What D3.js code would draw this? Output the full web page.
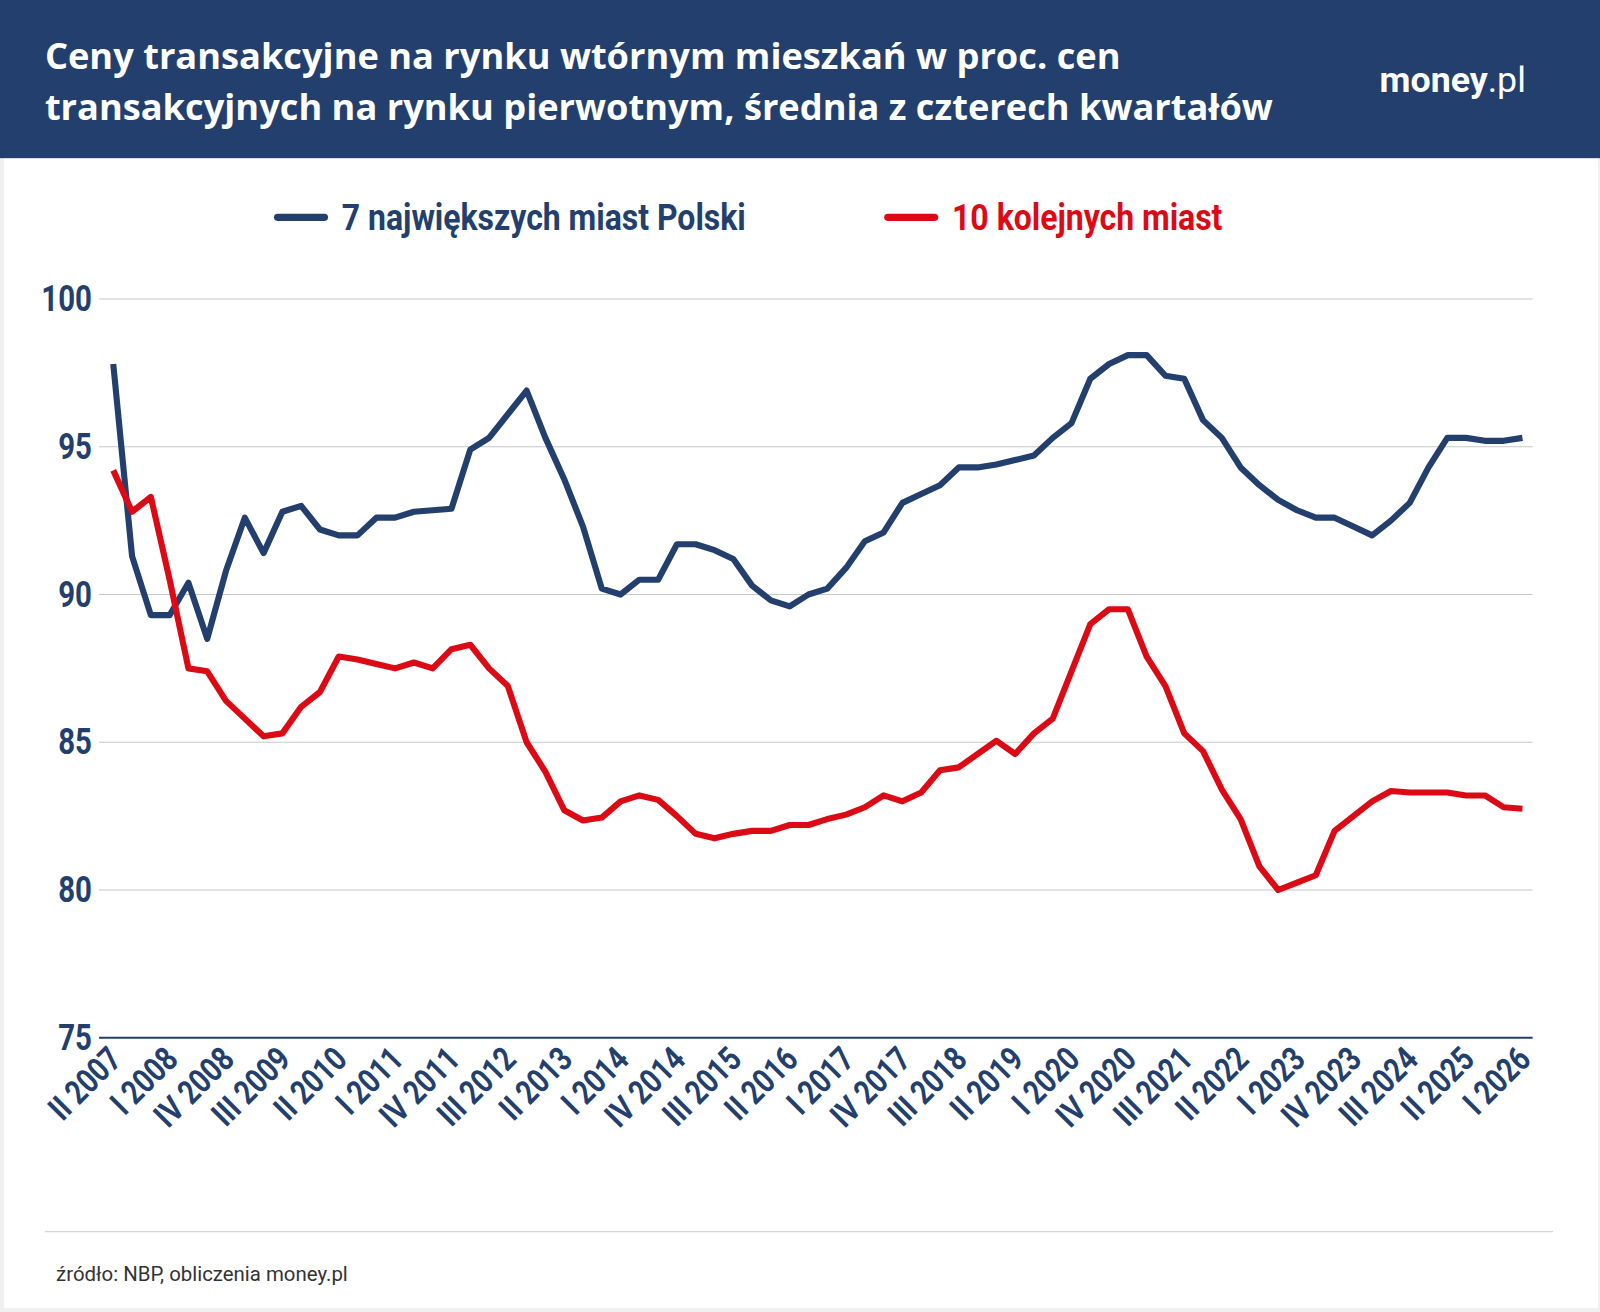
<!DOCTYPE html>
<html><head><meta charset="utf-8">
<script src="https://cdn.jsdelivr.net/npm/d3@7"></script>
<style>body{margin:0;background:#f0f0f0}</style>
</head><body><div id="chart"></div>
<script>
var startYear = 2007, startQ = 2
var blue = [97.8,91.3,89.3,89.3,90.4,88.5,90.8,92.6,91.4,92.8,93.0,92.2,92.0,92.0,92.6,92.6,92.8,92.85,92.9,94.9,
  95.3,96.1,96.9,95.3,93.9,92.3,90.2,90.0,90.5,90.5,91.7,91.7,91.5,91.2,90.3,89.8,89.6,90.0,90.2,90.9,
  91.8,92.1,93.1,93.4,93.7,94.3,94.3,94.4,94.55,94.7,95.3,95.8,97.3,97.8,98.1,98.1,97.4,97.3,95.9,95.3,
  94.3,93.7,93.2,92.85,92.6,92.6,92.3,92.0,92.5,93.1,94.3,95.3,95.3,95.2,95.2,95.3]
var red = [94.2,92.8,93.3,90.5,87.5,87.4,86.4,85.8,85.2,85.3,86.2,86.7,87.9,87.8,87.65,87.5,87.7,87.5,88.15,88.3,
  87.5,86.9,85.0,84.0,82.7,82.35,82.45,83.0,83.2,83.05,82.5,81.9,81.75,81.9,82.0,82.0,82.2,82.2,82.4,82.55,
  82.8,83.2,83.0,83.3,84.05,84.15,84.6,85.05,84.6,85.3,85.8,87.4,89.0,89.5,89.5,87.9,86.9,85.3,84.7,83.4,
  82.4,80.8,80.0,80.25,80.5,82.0,82.5,83.0,83.35,83.3,83.3,83.3,83.2,83.2,82.8,82.75]
var yTicks = [75,80,85,90,95,100]
var roman = ['I','II','III','IV']
var labels = blue.map(function(d,i){
  var q = startQ - 1 + i
  return roman[q % 4] + ' ' + (startYear + Math.floor(q / 4))
})
var series = [
  {name:'7 największych miast Polski', values: blue, color:'#223f6e'},
  {name:'10 kolejnych miast', values: red, color:'#dc0a14'}
]

var W = 1600, H = 1312
var cond = 'Roboto,sans-serif'
var root = d3.select('#chart').append('svg').attr('width', W).attr('height', H)
var svg = root.append('g').attr('transform','scale(' + (1/0.98) + ')')
svg.append('rect').attr('x',4).attr('y',0).attr('width',1562).attr('height',1282).attr('fill','#fff')
svg.append('rect').attr('x',0).attr('y',0).attr('width',1568).attr('height',155).attr('fill','#223f6e')
var title = svg.append('text').attr('fill','#fff').attr('font-family','"Open Sans",sans-serif')
  .attr('font-weight',700).attr('font-size',35.5)
title.append('tspan').attr('x',44).attr('y',68).text('Ceny transakcyjne na rynku wtórnym mieszkań w proc. cen')
title.append('tspan').attr('x',44).attr('y',118).text('transakcyjnych na rynku pierwotnym, średnia z czterech kwartałów')
var logo = svg.append('text').attr('x',1352).attr('y',90).attr('fill','#fff')
  .attr('font-family','Roboto,sans-serif').attr('font-size',35)
logo.append('tspan').attr('font-weight',700).text('money')
logo.append('tspan').attr('font-weight',400).text('.pl')

var x = d3.scaleLinear().domain([0, blue.length - 1]).range([111, 1492])
var y = d3.scaleLinear().domain([75, 100]).range([1017, 293])

// legend
var lg = svg.selectAll('.lg').data(series).enter().append('g')
  .attr('transform', function(d,i){ return 'translate(' + [272, 870][i] + ',213)' })
lg.append('line').attr('x1',0).attr('x2',46).attr('stroke',function(d){return d.color})
  .attr('stroke-width',7).attr('stroke-linecap','round')
lg.append('text').attr('transform','translate(63,12) scale(0.87,1)').attr('fill',function(d){return d.color})
  .attr('font-family',cond).attr('font-weight',700).attr('font-size',36).text(function(d){return d.name})

// grid + y axis
svg.append('g').selectAll('line').data(yTicks).enter().append('line')
  .attr('x1',97).attr('x2',1502).attr('y1',y).attr('y2',y)
  .attr('stroke',function(d){return d===75?'#223f6e':'#c8c8c8'}).attr('stroke-width',function(d){return d===75?2:1})
svg.append('g').selectAll('text').data(yTicks).enter().append('text')
  .attr('transform',function(d){return 'translate(90,' + (y(d)+12) + ') scale(0.8,1)'}).attr('text-anchor','end')
  .attr('fill','#223f6e').attr('font-family',cond).attr('font-weight',700).attr('font-size',36).text(String)

// x labels
svg.append('g').selectAll('text').data(labels.filter(function(d,i){return i%3===0}))
  .enter().append('text')
  .attr('transform',function(d,i){return 'translate(' + (x(i*3)+10) + ',1040) rotate(-45) scale(0.82,1)'})
  .attr('text-anchor','end').attr('fill','#223f6e').attr('font-family',cond)
  .attr('font-weight',700).attr('font-size',33).text(String)

var line = d3.line().x(function(d,i){return x(i)}).y(function(d){return y(d)})
svg.selectAll('.s').data(series).enter().append('path')
  .attr('d',function(d){return line(d.values)}).attr('fill','none')
  .attr('stroke',function(d){return d.color}).attr('stroke-width',6).attr('stroke-linejoin','round')

svg.append('line').attr('x1',44).attr('x2',1522).attr('y1',1207).attr('y2',1207).attr('stroke','#cfd6e0')
svg.append('text').attr('x',55).attr('y',1255).attr('fill','#333').attr('font-family','Roboto,sans-serif')
  .attr('font-size',20).text('źródło: NBP, obliczenia money.pl')
</script></body></html>
